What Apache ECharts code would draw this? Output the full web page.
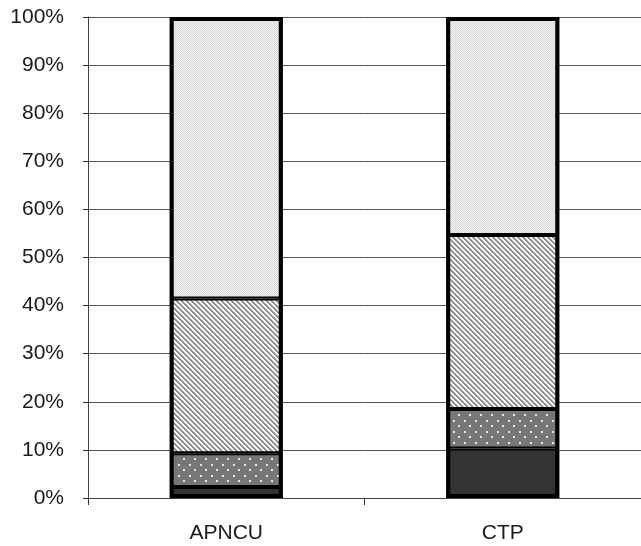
<!DOCTYPE html>
<html>
<head>
<meta charset="utf-8">
<script src="https://cdn.jsdelivr.net/npm/echarts@6/dist/echarts.min.js"></script>
<style>
html,body{margin:0;padding:0;background:#fff;}
#c{width:641px;height:546px;}
</style>
</head>
<body>
<div id="c"></div>
<script>
const categories = ['APNCU', 'CTP'];
const darkValues = [2.3, 10.3];
const dottedValues = [7.0, 8.2];
const hatchedValues = [32.2, 36.2];
const lightValues = [58.5, 45.3];
const yTicks = [0, 10, 20, 30, 40, 50, 60, 70, 80, 90, 100];

const totals = categories.map((_, i) => darkValues[i] + dottedValues[i] + hatchedValues[i] + lightValues[i]);

function makeTile(w, h, fn) {
  const c = document.createElement('canvas');
  c.width = w; c.height = h;
  const ctx = c.getContext('2d');
  fn(ctx, w, h);
  return c;
}
const lightTile = makeTile(4, 4, (ctx, w, h) => {
  for (let y = 0; y < h; y++) for (let x = 0; x < w; x++) {
    ctx.fillStyle = ((x + y) % 2 === 0) ? '#d4d4d4' : '#f6f6f6';
    ctx.fillRect(x, y, 1, 1);
  }
});
const hatchTile = makeTile(5, 5, (ctx, w, h) => {
  ctx.fillStyle = '#ffffff'; ctx.fillRect(0, 0, w, h);
  for (let y = 0; y < h; y++) for (let x = 0; x < w; x++) {
    const d = ((x - y) % 5 + 5) % 5;
    let col = null;
    if (d === 0 || d === 1) col = '#8c8c8c';
    else if (d === 2) col = '#c4c4c4';
    if (col) { ctx.fillStyle = col; ctx.fillRect(x, y, 1, 1); }
  }
});
const dotTile = makeTile(11, 11, (ctx, w, h) => {
  ctx.fillStyle = '#777777'; ctx.fillRect(0, 0, w, h);
  ctx.fillStyle = '#e8e8e8';
  ctx.fillRect(2, 2, 2, 2);
  ctx.fillRect(7, 7, 2, 2);
});

const BAR_W = 113;
function seriesOf(name, data, color) {
  return {
    name, type: 'bar', stack: 'total', data, barWidth: BAR_W, barGap: '-100%',
    itemStyle: { color, borderColor: '#000', borderWidth: 2 },
    emphasis: { disabled: true }, z: 2
  };
}

const chart = echarts.init(document.getElementById('c'), null, { renderer: 'canvas' });
chart.setOption({
  animation: false,
  grid: { left: 88, right: 0, top: 17, bottom: 48, containLabel: false },
  xAxis: {
    type: 'category', data: categories,
    axisLine: { show: true, lineStyle: { color: '#444', width: 1 } },
    axisTick: { show: true, alignWithLabel: false, length: 7, lineStyle: { color: '#333' } },
    axisLabel: { color: '#1a1a1a', fontSize: 21, fontFamily: 'Liberation Sans, Arial, sans-serif', margin: 25 }
  },
  yAxis: {
    type: 'value', min: 0, max: 100, interval: 10,
    axisLine: { show: true, lineStyle: { color: '#444', width: 1 } },
    axisTick: { show: true, length: 5, lineStyle: { color: '#333' } },
    splitLine: { show: true, lineStyle: { color: '#555', width: 1 } },
    axisLabel: {
      color: '#1a1a1a', fontSize: 21, fontFamily: 'Liberation Sans, Arial, sans-serif', margin: 24,
      formatter: v => (yTicks.indexOf(v) >= 0 ? v + '%' : '')
    }
  },
  series: [
    seriesOf('dark', darkValues, '#333333'),
    seriesOf('dotted', dottedValues, { image: dotTile, repeat: 'repeat' }),
    seriesOf('hatched', hatchedValues, { image: hatchTile, repeat: 'repeat' }),
    seriesOf('light', lightValues, { image: lightTile, repeat: 'repeat' }),
    {
      name: 'outline', type: 'bar', stack: 'outline', data: totals, barWidth: BAR_W, barGap: '-100%',
      itemStyle: { color: 'rgba(0,0,0,0)', borderColor: '#000', borderWidth: 4 },
      emphasis: { disabled: true }, z: 3, silent: true
    }
  ]
});
</script>
</body>
</html>
